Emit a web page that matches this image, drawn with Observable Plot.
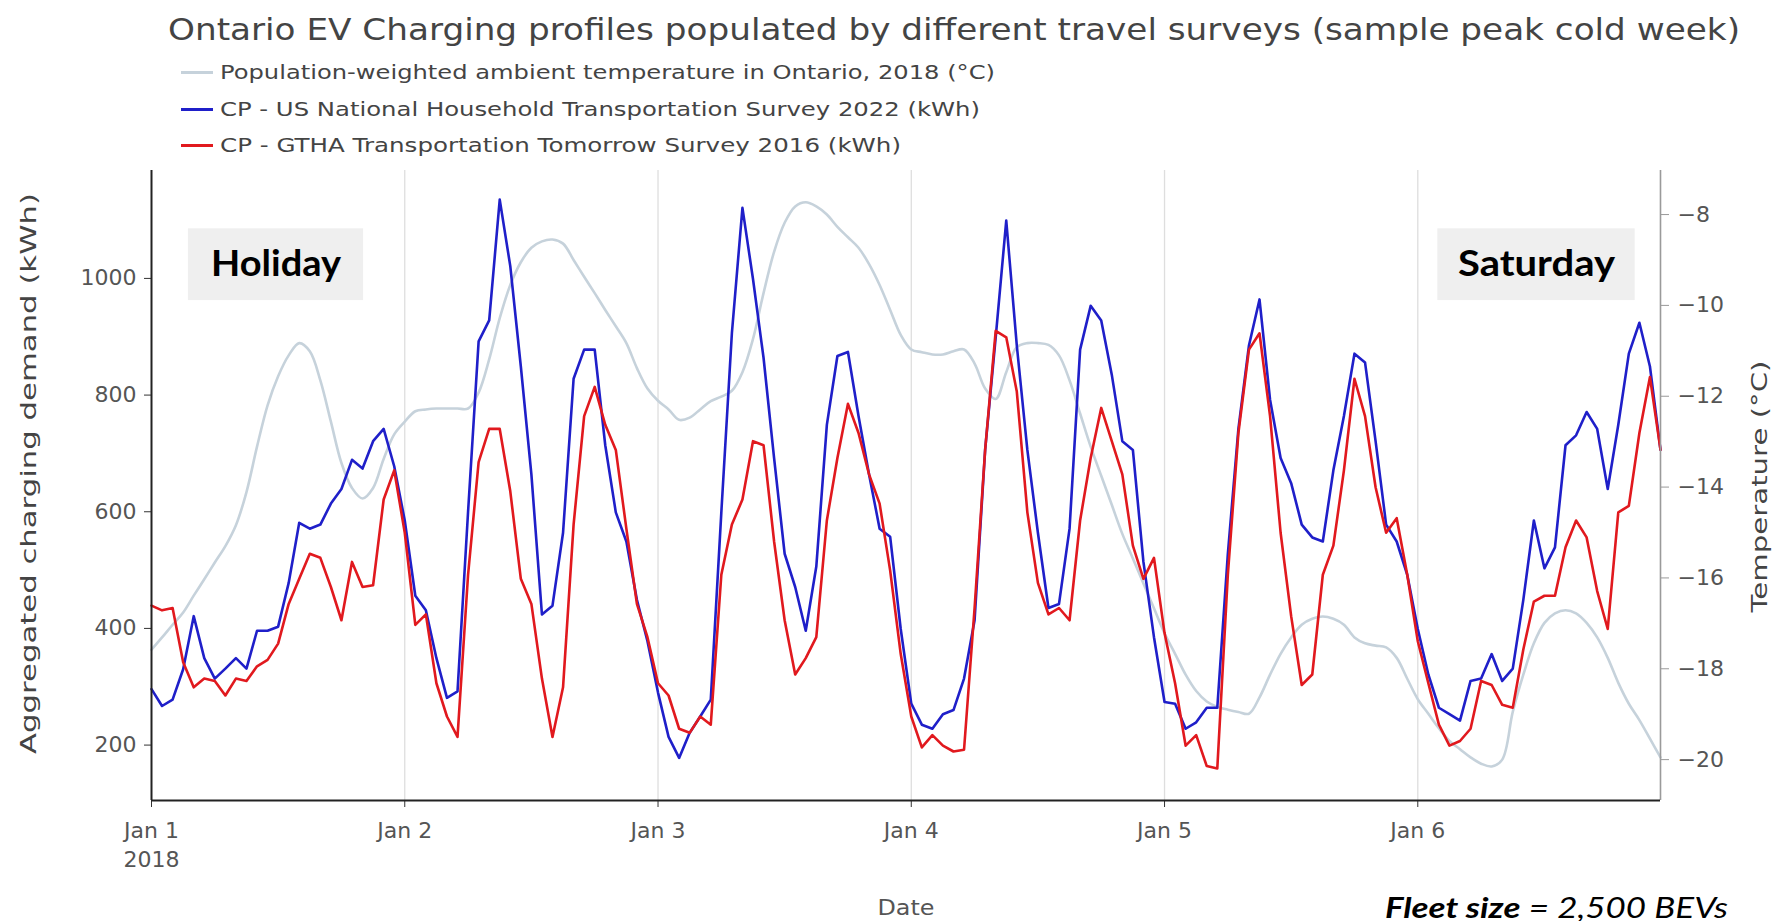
<!DOCTYPE html>
<html>
<head>
<meta charset="utf-8">
<script src="https://cdn.jsdelivr.net/npm/d3@7"></script>
<script src="https://cdn.jsdelivr.net/npm/@observablehq/plot@0.6"></script>
<style>
html, body { margin: 0; padding: 0; background: #fff; overflow: hidden; }
#wrap { position: relative; width: 1777px; height: 921px; font-family: "DejaVu Sans", sans-serif; }
#chart { position: absolute; left: 0; top: 158px; }
.fit { position: absolute; white-space: nowrap; line-height: 1; transform-origin: 0 50%; display: inline-block; }
.title { color: #444; font-size: 31px; }
.leg { color: #444; font-size: 20px; }
.legline { position: absolute; width: 32px; height: 3px; }
.caption { font-family: Lato, "Open Sans", sans-serif; font-style: italic; font-size: 28px; color: #000; }
</style>
</head>
<body>
<div id="wrap"></div>
<script>
// ---------------- data ----------------
const chartTitle = "Ontario EV Charging profiles populated by different travel surveys (sample peak cold week)";
const seriesNames = [
  "Population-weighted ambient temperature in Ontario, 2018 (°C)",
  "CP - US National Household Transportation Survey 2022 (kWh)",
  "CP - GTHA Transportation Tomorrow Survey 2016 (kWh)"
];
const yTitleLeft = "Aggregated charging demand (kWh)";
const yTitleRight = "Temperature (°C)";
const xTitle = "Date";
const captionBold = "Fleet size";
const captionRest = " = 2,500 BEVs";
const dayLabels = ["Jan 1\n2018", "Jan 2", "Jan 3", "Jan 4", "Jan 5", "Jan 6"];
const kwhTicks = [200, 400, 600, 800, 1000];
const tempTicks = [-8, -10, -12, -14, -16, -18, -20];
const annotationLabels = ["Holiday", "Saturday"];
const annotationDays = [0, 5]; // index into days (Jan 1, Jan 6)

// hourly values, Jan 1 00:00 -> Jan 6 23:00 (2018)
const nhtsKwh = [
  296, 267, 278, 330, 421, 349, 314, 331, 349, 331, 396, 396, 403, 478, 581, 571, 578, 614, 639, 689, 674, 721, 742, 678,
  585, 456, 431, 349, 281, 292, 600, 892, 928, 1135, 1021, 849, 664, 424, 439, 564, 828, 878, 878, 714, 599, 549, 449, 378,
  290, 214, 178, 221, 249, 278, 599, 906, 1121, 999, 864, 692, 528, 471, 396, 506, 749, 867, 874, 764, 664, 571, 557, 399,
  271, 235, 228, 253, 260, 314, 414, 706, 899, 1099, 885, 706, 564, 435, 442, 571, 878, 953, 928, 835, 721, 706, 514, 385,
  274, 271, 228, 239, 264, 264, 528, 742, 885, 964, 792, 692, 649, 578, 556, 549, 671, 764, 871, 856, 721, 578, 549, 492,
  399, 321, 264, 253, 242, 310, 314, 356, 310, 331, 449, 585, 503, 539, 714, 731, 771, 742, 639, 749, 871, 924, 849, 706
];
const ttsKwh = [
  439, 431, 435, 342, 299, 314, 310, 285, 314, 310, 335, 346, 374, 442, 485, 528, 521, 471, 414, 514, 471, 474, 621, 671,
  564, 406, 424, 306, 249, 214, 492, 685, 742, 742, 635, 485, 442, 314, 214, 299, 578, 764, 814, 749, 706, 571, 442, 385,
  306, 285, 228, 221, 249, 235, 492, 578, 621, 721, 714, 549, 414, 321, 349, 385, 585, 692, 785, 735, 664, 614, 499, 356,
  249, 196, 217, 199, 189, 192, 435, 706, 910, 899, 806, 599, 478, 424, 435, 414, 585, 692, 778, 721, 664, 542, 485, 521,
  392, 306, 199, 217, 164, 160, 492, 735, 878, 906, 764, 564, 421, 303, 321, 492, 542, 671, 828, 764, 642, 564, 589, 492,
  378, 306, 235, 199, 207, 228, 310, 303, 269, 264, 364, 446, 456, 456, 539, 585, 556, 464, 399, 599, 610, 735, 831, 706
];
const tempC = [
  -17.58, -17.31, -17.03, -16.76, -16.39, -16.03, -15.66, -15.30, -14.84, -14.11, -13.11, -12.20, -11.56, -11.10, -10.83, -11.01, -11.65, -12.56, -13.47, -14.02, -14.25, -14.02, -13.38, -12.84,
  -12.56, -12.33, -12.29, -12.27, -12.27, -12.27, -12.27, -11.92, -11.19, -10.28, -9.55, -9.05, -8.73, -8.59, -8.55, -8.64, -9.00, -9.37, -9.73, -10.10, -10.46, -10.83, -11.38, -11.83,
  -12.10, -12.29, -12.52, -12.47, -12.29, -12.11, -12.01, -11.88, -11.47, -10.74, -9.73, -8.82, -8.18, -7.82, -7.73, -7.82, -8.00, -8.27, -8.50, -8.73, -9.09, -9.55, -10.10, -10.65,
  -10.97, -11.03, -11.08, -11.08, -11.01, -10.97, -11.28, -11.83, -12.06, -11.47, -10.92, -10.83, -10.83, -10.87, -11.10, -11.65, -12.38, -13.11, -13.75, -14.39, -15.03, -15.57, -16.12, -16.67,
  -17.22, -17.67, -18.13, -18.49, -18.72, -18.84, -18.90, -18.95, -18.99, -18.63, -18.13, -17.67, -17.31, -17.03, -16.90, -16.85, -16.90, -17.03, -17.31, -17.44, -17.49, -17.53, -17.76, -18.22,
  -18.67, -18.99, -19.31, -19.59, -19.77, -19.95, -20.09, -20.15, -20.00, -18.95, -18.13, -17.44, -16.99, -16.78, -16.71, -16.78, -16.99, -17.31, -17.76, -18.31, -18.77, -19.13, -19.54, -19.95
];

// ---------------- build ----------------
const colors = {temp: "#c6d2db", nhts: "#1f1fc9", tts: "#e1191e"};
const HOUR = 3600e3;
const t0 = Date.UTC(2018, 0, 1);
const rows = nhtsKwh.map((v, i) => ({time: new Date(t0 + i * HOUR), nhts: v, tts: ttsKwh[i], temp: tempC[i]}));
const dayTicks = dayLabels.map((_, i) => new Date(t0 + i * 24 * HOUR));

const yDomain = [105, 1185];
const tDomain = [-20.9, -7.03];
const t2k = d3.scaleLinear().domain(tDomain).range(yDomain);
const fmtNum = v => String(Math.round(v)).replace("-", "\u2212");

// annotation boxes (layout: hours offsets from day start, kWh band)
const boxLayout = [{h1: 3.5, h2: 20.1}, {h1: 1.9, h2: 20.6}];
const boxes = annotationLabels.map((label, i) => {
  const d0 = +dayTicks[annotationDays[i]];
  const b = boxLayout[i];
  return {label, x1: new Date(d0 + b.h1 * HOUR), x2: new Date(d0 + b.h2 * HOUR), xc: new Date(d0 + (b.h1 + b.h2) / 2 * HOUR)};
});
const boxBand = [962, 1085];

const chart = Plot.plot({
  width: 1777,
  height: 763,
  marginLeft: 151,
  marginRight: 117,
  marginTop: 12,
  marginBottom: 121,
  style: {fontFamily: '"DejaVu Sans", sans-serif', fontSize: "22px", color: "#555", background: "transparent", overflow: "visible"},
  x: {type: "utc", domain: [rows[0].time, rows[rows.length - 1].time]},
  y: {domain: yDomain},
  marks: [
    Plot.ruleX(dayTicks.slice(1), {stroke: "#dedede", strokeWidth: 1.3}),
    Plot.rect(boxes, {x1: "x1", x2: "x2", y1: boxBand[0], y2: boxBand[1], fill: "#efefef"}),
    Plot.text(boxes, {x: "xc", y: (boxBand[0] + boxBand[1]) / 2, text: "label", fontFamily: "Lato, 'Open Sans', sans-serif", fontWeight: 700, fontSize: 36, fill: "#000"}),
    Plot.line(rows, {x: "time", y: d => t2k(d.temp), stroke: colors.temp, strokeWidth: 2.6, curve: "catmull-rom"}),
    Plot.line(rows, {x: "time", y: "nhts", stroke: colors.nhts, strokeWidth: 2.6}),
    Plot.line(rows, {x: "time", y: "tts", stroke: colors.tts, strokeWidth: 2.6}),
    Plot.axisY(kwhTicks, {anchor: "left", tickSize: 7, tickPadding: 8, label: null, stroke: "#333", fill: "#555", tickFormat: d => String(d)}),
    Plot.axisY(tempTicks.map(t => t2k(t)), {anchor: "right", tickSize: 8, tickPadding: 9, label: null, tickFormat: v => fmtNum(t2k.invert(v)), stroke: "#999", fill: "#555"}),
    Plot.axisX(dayTicks, {anchor: "bottom", tickSize: 7, tickPadding: 9, label: null, lineHeight: 1.35, stroke: "#333", fill: "#555",
      tickFormat: d => dayLabels[dayTicks.findIndex(t => +t === +d)]}),
    Plot.ruleX([rows[0].time], {stroke: "#222", strokeWidth: 2}),
    Plot.ruleX([rows[rows.length - 1].time], {stroke: "#9a9a9a", strokeWidth: 1.6}),
    Plot.ruleY([yDomain[0]], {stroke: "#222", strokeWidth: 2}),
    Plot.text([yTitleLeft], {text: d => d, frameAnchor: "left", rotate: -90, dx: -123, dy: -12, fontSize: 22, fill: "#444"}),
    Plot.text([yTitleRight], {text: d => d, frameAnchor: "right", rotate: -90, dx: 99, dy: 1, fontSize: 22, fill: "#444"}),
    Plot.text([xTitle], {text: d => d, frameAnchor: "bottom", lineAnchor: "middle", dy: 107, fontSize: 22, fill: "#555"})
  ]
});
chart.id = "chart";
const wrap = document.getElementById("wrap");
wrap.appendChild(chart);

// stretch SVG texts to the reference widths (centered explicitly)
const svgWidths = {[yTitleLeft]: 561, [yTitleRight]: 252, [xTitle]: 57, "Holiday": 130, "Saturday": 157};
d3.select(chart).selectAll("text").each(function () {
  const w = svgWidths[this.textContent];
  if (w) {
    this.setAttribute("text-anchor", "start");
    this.setAttribute("dx", -w / 2);
    this.setAttribute("textLength", w);
    this.setAttribute("lengthAdjust", "spacingAndGlyphs");
  }
});

// ---------------- html title, legend, caption ----------------
function addText(cls, text, left, centerY, width) {
  const el = document.createElement("div");
  el.className = "fit " + cls;
  el.textContent = text;
  wrap.appendChild(el);
  const r = el.getBoundingClientRect();
  el.style.left = left + "px";
  el.style.top = (centerY - r.height / 2) + "px";
  el.style.transform = `scaleX(${width / r.width})`;
  return el;
}
addText("title", chartTitle, 168, 29, 1572);
const legY = [72, 109, 145];
const legColors = [colors.temp, colors.nhts, colors.tts];
const legWidths = [775, 760, 681];
seriesNames.forEach((name, i) => {
  const ln = document.createElement("div");
  ln.className = "legline";
  ln.style.left = "181px";
  ln.style.top = (legY[i] - 1.5) + "px";
  ln.style.background = legColors[i];
  wrap.appendChild(ln);
  addText("leg", name, 220, legY[i], legWidths[i]);
});
const cap = document.createElement("div");
cap.className = "fit caption";
const b = document.createElement("b"); b.textContent = captionBold;
cap.appendChild(b); cap.appendChild(document.createTextNode(captionRest));
wrap.appendChild(cap);
{
  const r = cap.getBoundingClientRect();
  cap.style.left = "1385px";
  cap.style.top = (907 - r.height / 2) + "px";
  cap.style.transform = `scaleX(${343 / r.width})`;
}
</script>
</body>
</html>
